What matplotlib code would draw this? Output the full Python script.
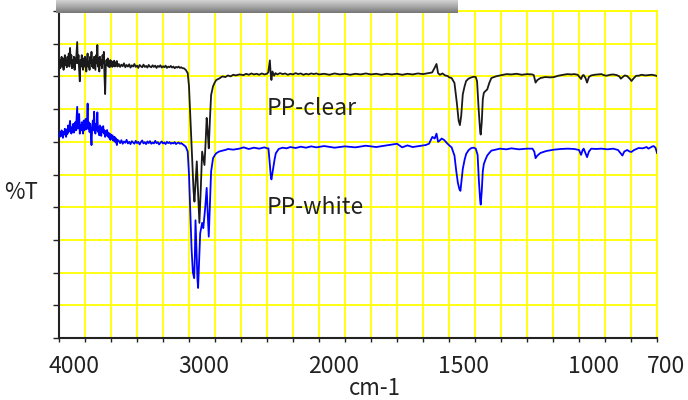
import numpy as np
import matplotlib
matplotlib.use("Agg")
import matplotlib.pyplot as plt
from matplotlib.colors import LinearSegmentedColormap
from matplotlib.transforms import ScaledTranslation

plt.rcParams['font.family'] = ['Noto Sans CJK JP', 'DejaVu Sans']

# PP-clear spectrum (wavenumber cm-1, %T)
clear_wn = list(range(4000, 3545, -5)) + list(range(3540, 3045, -10)) + [
    3040, 3025, 3010, 3000, 2990, 2975, 2965, 2958, 2950,
    2940, 2930, 2920, 2910, 2899, 2890, 2881, 2872, 2864, 2856, 2848, 2840, 2830, 2815,
    2800, 2790, 2770, 2743, 2720, 2700, 2680, 2660, 2640, 2613, 2580, 2560, 2540, 2520,
    2500, 2480, 2460, 2440, 2420, 2400, 2390, 2378, 2372, 2366, 2358, 2345, 2335, 2320,
    2300, 2280, 2260, 2240, 2220, 2200, 2180, 2160, 2140, 2120, 2100, 2080, 2060, 2040,
    2020, 2000, 1980, 1960, 1940, 1920, 1900, 1880, 1860, 1840, 1820, 1800, 1780, 1760,
    1740, 1720, 1700, 1680, 1660, 1640, 1620, 1600, 1580, 1565, 1556, 1548, 1542, 1535,
    1525, 1515, 1505, 1499, 1490, 1479, 1470, 1463, 1458, 1453, 1447, 1440, 1434, 1425,
    1414, 1405, 1397, 1392, 1386, 1380, 1378, 1374, 1370, 1366, 1360, 1353, 1345, 1337,
    1320, 1304, 1290, 1278, 1260, 1240, 1220, 1200, 1180, 1174, 1167, 1160, 1148, 1130,
    1110, 1096, 1080, 1060, 1044, 1030, 1018, 1005, 992, 986, 982, 975, 969, 962, 953,
    940, 925, 914, 905, 895, 880, 869, 855, 845, 839, 832, 824, 815, 805, 798, 790, 780,
    771, 760, 745, 733, 720, 707, 700]
clear_t = [
    83.5, 85.0, 82.5, 84.5, 86.0, 83.0, 85.5, 82.0, 84.0, 86.5, 83.5, 85.0, 82.8, 86.0,
    84.0, 87.0, 83.0, 88.7, 84.0, 86.5, 82.5, 85.0, 83.0, 86.0, 82.0, 85.5, 84.0, 87.0,
    90.5, 84.0, 86.5, 82.0, 78.5, 85.0, 83.0, 86.5, 84.0, 82.0, 85.5, 83.0, 86.0, 84.0,
    81.5, 85.0, 87.0, 83.0, 84.5, 82.0, 86.0, 84.0, 87.5, 83.0, 85.0, 82.5, 86.0, 84.0,
    82.0, 86.5, 84.0, 89.6, 83.0, 85.5, 81.5, 86.0, 83.5, 85.0, 82.5, 86.5, 84.0, 87.5,
    80.0, 74.6, 83.0, 85.0, 83.5, 85.5, 83.0, 84.8, 82.8, 85.0, 83.5, 84.6, 82.9, 84.5,
    83.2, 84.8, 83.0, 84.2, 83.3, 84.7, 83.0,
    83.8, 82.9, 83.6, 83.1, 84.0, 82.8, 83.5, 83.0, 83.7, 82.7,
    83.4, 83.0, 83.8, 82.9, 83.3, 82.6, 83.5, 83.1, 82.8, 83.6,
    82.9, 83.2, 82.7, 83.5, 83.0, 82.8, 83.4, 82.9, 83.3, 82.6,
    83.2, 82.9, 83.4, 82.7, 83.1, 82.8, 83.3, 82.6, 83.0, 82.8,
    83.2, 82.7, 83.0, 82.5, 82.9, 82.7, 83.0, 82.6, 82.8, 82.5,
    82.5, 82.0, 81.0, 77.0, 68.0, 55.0, 45.0, 41.7, 47.0,
    54.0, 44.0, 35.2, 45.0, 57.0, 55.0, 52.9, 60.0, 67.3, 63.0, 58.0, 66.0, 74.3, 77.0,
    78.3, 78.9, 79.3, 80.0, 79.8, 80.3, 80.0, 80.5, 80.3, 80.6, 80.4, 80.8, 80.5, 80.9,
    80.6, 80.8, 80.5, 80.9, 80.6, 80.8, 81.3, 84.9, 81.0, 78.9, 81.5, 80.2, 81.0, 80.6,
    81.0, 80.7, 80.9, 80.5, 80.8, 80.6, 81.0, 80.7, 80.9, 80.5, 80.8, 80.6, 80.9, 80.7,
    80.9, 80.6, 80.8, 80.5, 80.9, 80.6, 80.8, 80.5, 80.8, 80.6, 80.9, 80.6, 80.8, 80.5,
    80.8, 80.6, 80.8, 80.5, 80.8, 80.6, 80.9, 80.7, 81.0, 81.2, 82.5, 83.8, 81.0, 80.5,
    80.9, 80.3, 80.1, 79.7, 79.5, 78.0, 72.0, 66.5, 65.1, 68.0, 74.5, 77.0, 78.6, 79.3,
    79.7, 79.9, 79.8, 78.5, 70.0, 63.0, 62.2, 66.0, 73.0, 75.0, 75.5, 76.0, 78.0, 79.5,
    80.0, 80.3, 80.5, 80.7, 80.6, 80.8, 80.5, 80.7, 80.6, 80.4, 78.1, 78.9, 79.5, 79.8,
    79.7, 79.8, 80.2, 80.5, 80.7, 80.6, 80.7, 80.5, 79.2, 80.3, 80.4, 79.5, 78.1, 79.8, 80.3,
    80.5, 80.6, 80.7, 80.4, 80.2, 80.5, 80.6, 80.4, 80.0, 79.3, 79.8, 80.3, 80.1, 79.3, 78.6,
    79.4, 80.2, 80.2, 80.5, 80.3, 80.4, 80.5, 80.3, 80.1]

# PP-white spectrum
white_wn = list(range(4000, 3545, -5)) + list(range(3540, 3045, -10)) + [
    3040, 3025, 3010, 3000,
    2990, 2980, 2970, 2960, 2955, 2950, 2945, 2935, 2930, 2922, 2914, 2899, 2890, 2875,
    2864, 2856, 2848, 2840, 2830, 2815, 2800, 2790, 2770, 2743, 2720, 2700, 2660, 2613,
    2580, 2540, 2500, 2460, 2420, 2400, 2389, 2380, 2372, 2366, 2358, 2350, 2340, 2332,
    2310, 2281, 2250, 2220, 2180, 2140, 2100, 2060, 2020, 1980, 1940, 1900, 1860, 1820,
    1780, 1740, 1700, 1680, 1660, 1640, 1616, 1590, 1577, 1564, 1555, 1548, 1542, 1538,
    1528, 1518, 1508, 1499, 1490, 1479, 1472, 1466, 1460, 1456, 1452, 1447, 1440, 1434,
    1424, 1414, 1405, 1397, 1390, 1385, 1380, 1378, 1374, 1370, 1366, 1360, 1353, 1345,
    1337, 1320, 1304, 1280, 1260, 1231, 1200, 1179, 1172, 1167, 1160, 1148, 1125, 1096,
    1070, 1044, 1018, 1000, 992, 986, 982, 975, 969, 962, 953, 935, 914, 890, 869, 850,
    840, 833, 826, 815, 805, 798, 790, 771, 755, 740, 733, 720, 713, 706, 700]
white_t = [
    62.6, 61.5, 63.0, 61.8, 63.5, 62.0, 61.2, 63.0, 62.2, 64.0, 62.5, 61.5, 63.8, 62.4,
    65.0, 63.0, 64.5, 66.4, 63.5, 62.5, 64.5, 63.0, 65.5, 62.8, 64.0, 66.0, 63.5, 67.0,
    70.7, 64.0, 66.5, 68.5, 62.5, 65.0, 63.5, 66.0, 64.0, 62.5, 66.5, 63.5, 65.0, 67.0,
    63.8, 65.5, 71.7, 64.0, 66.0, 63.0, 65.5, 62.5, 59.0, 64.0, 66.5, 63.5, 69.2, 64.0,
    62.5, 65.5, 63.5, 69.0, 63.0, 64.5, 62.0, 65.0, 63.5, 61.8, 64.5, 63.0, 64.8, 62.5,
    63.5, 61.5, 63.2, 62.0, 63.6, 61.6, 62.8, 61.2, 62.5, 60.6, 62.2, 61.0, 62.0, 60.4,
    61.6, 60.2, 61.4, 59.8, 61.0, 59.0, 60.6,
    60.3, 59.6, 60.5, 59.4, 60.1, 59.7, 60.6, 59.5, 60.0, 59.3,
    60.2, 59.8, 59.4, 60.3, 59.6, 60.0, 59.2, 59.9, 60.4, 59.5,
    59.9, 59.3, 60.1, 59.6, 60.2, 59.4, 59.8, 59.5, 60.3, 59.6,
    59.9, 59.2, 59.7, 60.1, 59.5, 59.8, 59.3, 60.0, 59.6, 59.9,
    59.4, 59.7, 59.5, 59.9, 59.3, 59.6, 59.8, 59.4, 59.6, 59.3,
    59.0, 58.5, 57.0, 50.0,
    38.0, 27.0, 20.0, 18.3, 25.0, 36.0, 30.0, 18.0, 15.3, 24.0, 32.0, 35.2, 33.6, 40.0,
    45.9, 38.0, 31.0, 40.0, 50.9, 55.0, 56.0, 56.5, 57.0, 57.3, 57.5, 57.8, 57.6, 57.9,
    58.3, 57.8, 58.2, 57.9, 58.3, 58.0, 58.0, 54.0, 50.0, 48.5, 50.5, 52.4, 55.0, 56.5,
    57.8, 58.2, 58.0, 58.4, 58.1, 58.5, 58.2, 58.6, 58.3, 58.7, 58.2, 58.6, 58.3, 58.8,
    58.4, 58.9, 59.4, 58.3, 58.9, 58.4, 58.7, 59.0, 59.4, 61.5, 61.0, 62.5, 60.0, 60.2,
    61.0, 60.5, 59.6, 58.9, 58.3, 55.8, 51.0, 47.5, 45.5, 45.0, 48.0, 51.7, 54.5, 56.3,
    57.5, 58.1, 58.2, 57.9, 56.0, 48.0, 42.0, 40.8, 45.0, 51.0, 53.2, 54.5, 55.8, 56.6,
    57.3, 57.6, 57.9, 57.7, 58.0, 57.7, 57.9, 57.9, 57.0, 55.0, 55.8, 56.6, 57.2, 57.6,
    57.8, 57.9, 57.8, 57.5, 56.0, 57.5, 57.9, 56.5, 55.3, 57.0, 57.9, 57.8, 57.9, 57.7,
    57.9, 57.5, 56.5, 55.8, 57.0, 57.5, 57.0, 56.9, 57.4, 58.1, 58.0, 58.4, 57.9, 58.5,
    58.7, 58.2, 56.6]

x_labels = ['4000', '3000', '2000', '1500', '1000', '700']
x_label_pos = [4000, 3000, 2000, 1500, 1000, 700]
x_grid = list(range(4000, 1999, -200)) + list(range(1900, 699, -100))


# FT-IR style axis: 4000-2000 at half the scale of 2000-700
def fwd(w):
    w = np.asarray(w, dtype=float)
    return np.where(w > 2000, 2000 + (w - 2000) / 2, w)


def inv(v):
    v = np.asarray(v, dtype=float)
    return np.where(v > 2000, 2000 + (v - 2000) * 2, v)


fig = plt.figure(figsize=(6.88, 4.0), dpi=100)
ax = fig.add_axes([59 / 688, 1 - 338 / 400, (657 - 59) / 688, (338 - 11) / 400])

ax.set_xscale('function', functions=(fwd, inv))
ax.plot(clear_wn, clear_t, color='#1a1a1a', lw=1.3, zorder=3)
ax.plot(white_wn, white_t, color='#0000ff', lw=1.3, zorder=3)
ax.set_xlim(4000, 700)
ax.set_ylim(0, 100)

ax.set_xticks(x_grid)
ax.set_xticklabels([x_labels[x_label_pos.index(t)] if t in x_label_pos else '' for t in x_grid])
ax.set_yticks(np.arange(0, 101, 10))
ax.set_yticklabels([])
ax.grid(True, color='#ffff00', lw=1.3)
ax.set_axisbelow(True)

ax.tick_params(axis='x', direction='out', length=3, width=1, color='#222222',
               labelsize=16.5, pad=9, labelcolor='#222222')
ax.tick_params(axis='y', direction='out', length=4, width=1, color='#222222')

for side in ['top', 'right']:
    ax.spines[side].set_color('#ffff00')
    ax.spines[side].set_linewidth(1.3)
for side in ['left', 'bottom']:
    ax.spines[side].set_color('#222222')
    ax.spines[side].set_linewidth(1.5)

# labels in the original sit a bit right of their ticks
for lab in ax.get_xticklabels():
    dx = 9 if lab.get_text() == '700' else 15
    lab.set_transform(lab.get_transform() + ScaledTranslation(dx / 100, 0, fig.dpi_scale_trans))

ax.text(2400, 70.3, 'PP-clear', fontsize=16.5, color='#222222', va='center', ha='left')
ax.text(2400, 39.8, 'PP-white', fontsize=16.5, color='#222222', va='center', ha='left')

fig.text(21 / 688, 1 - 193 / 400, '%T', fontsize=16, color='#222222', ha='center', va='center')
fig.text(375 / 688, 1 - 395 / 400, 'cm-1', fontsize=16, color='#222222', ha='center', va='baseline')

# grey title bar cut off at the top edge
tax = fig.add_axes([56 / 688, 1 - 13 / 400, (458 - 56) / 688, 13 / 400], zorder=5)
grey = LinearSegmentedColormap.from_list('bar', ['#d2d2d2', '#a8a8a8', '#777777'])
tax.imshow(np.linspace(0, 1, 30).reshape(-1, 1), cmap=grey, aspect='auto')
tax.axis('off')

fig.savefig('out.png', dpi=100)
